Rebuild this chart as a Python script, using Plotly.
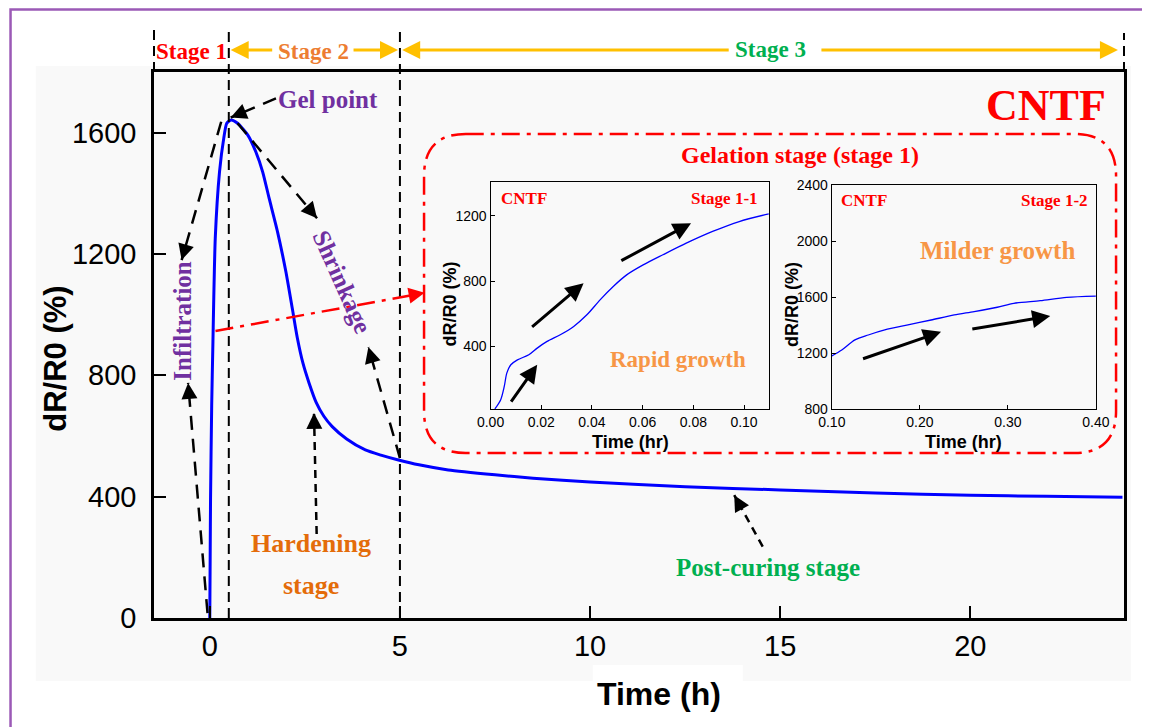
import math
import plotly.graph_objects as go

# ---------------- data ----------------
time_h = [0.0, 0.01, 0.02, 0.05, 0.081, 0.144, 0.256, 0.368, 0.446, 0.56, 0.73, 1.0, 1.21,
          1.39, 1.56, 1.78, 2.0, 2.17, 2.3, 2.45, 2.61, 2.8, 3.0, 3.22, 3.6, 4.09, 4.5, 4.96,
          5.5, 6.27, 7.5, 8.5, 10, 12.5, 15, 17.5, 20, 22, 24.0]
dr_r0 = [0, 200, 396, 700, 900, 1252, 1471, 1582, 1631, 1642, 1631, 1592, 1537,
         1471, 1384, 1274, 1142, 1020, 925, 840, 775, 710, 665, 631, 590, 554, 537, 521,
         505, 488, 472, 461, 448, 433, 422, 412, 405, 401, 398]

s11_time = [0.0017, 0.0040, 0.0054, 0.0064, 0.0080, 0.0106, 0.0151, 0.0184, 0.0223, 0.0275,
            0.0328, 0.0380, 0.0432, 0.0484, 0.0537, 0.0602, 0.0680, 0.0772, 0.0876, 0.0981,
            0.1098]
s11_val = [17, 74, 155, 237, 288, 318, 349, 390, 431, 472,
           523, 594, 686, 768, 839, 900, 962, 1033, 1105, 1166,
           1213]

s12_time = [0.100, 0.1113, 0.1263, 0.1414, 0.1602, 0.1865, 0.2128, 0.2391, 0.2617, 0.2880,
            0.3068, 0.3368, 0.3669, 0.400]
s12_val = [1180, 1223, 1295, 1330, 1366, 1402, 1437, 1473, 1497, 1528, 1556, 1575, 1599, 1608]

main_xticks = [0, 5, 10, 15, 20]
main_yticks = [0, 400, 800, 1200, 1600]
s11_xticks = [0, 0.02, 0.04, 0.06, 0.08, 0.10]
s11_yticks = [400, 800, 1200]
s12_xticks = [0.1, 0.2, 0.3, 0.4]
s12_yticks = [800, 1200, 1600, 2000, 2400]
stage_bounds = [0.5, 5]

# ---------------- geometry helpers (screen pixel coordinates) ----------------
OFF = 8                      # default body margin of the html page
W, H = 1150 - OFF, 727 - OFF
PL, PT, PR, PB = 154, 72, 1131, 618   # plot area on screen
ML, MT = PL - OFF, PT - OFF
MR, MB = W - (PR - OFF), H - (PB - OFF)
PW = PR - PL
PH = PB - PT
XR = [-1.467, 24.04]
YR = [0, 1800]
SX = PW / (XR[1] - XR[0])
SY = PH / (YR[1] - YR[0])


def px(x):
    return (x - PL) / PW


def py(y):
    return (PB - y) / PH


SERIF = "Liberation Serif"
SANS = "Liberation Sans"
RED = "#FF0000"
PURPLE = "#7030A0"
ORANGE = "#ED7D31"
ORANGE2 = "#E46C0A"
LORANGE = "#F79646"
GREEN = "#00B050"
YELLOW = "#FFC000"

shapes = []
annotations = []


def text(t, x, y, size, color, xref="x", yref="y", angle=0, family=SERIF, bold=True):
    annotations.append(dict(
        x=x, y=y, xref=xref, yref=yref, text=("<b>%s</b>" % t) if bold else t,
        showarrow=False, textangle=angle,
        font=dict(family=family, size=size, color=color),
        xanchor="center", yanchor="middle"))


def head(x0, y0, x1, y1, color, xref="x", yref="y", sx=SX, sy=SY, L=10, aw=2, asz=1.6):
    dxp = (x0 - x1) * sx
    dyp = -(y0 - y1) * sy
    n = math.hypot(dxp, dyp)
    annotations.append(dict(
        x=x1, y=y1, xref=xref, yref=yref, ax=dxp / n * L, ay=dyp / n * L,
        axref="pixel", ayref="pixel", text="", showarrow=True, arrowhead=2,
        arrowsize=asz, arrowwidth=aw, arrowcolor=color, standoff=0))


def dashed_arrow(x0, y0, x1, y1, dash, color="black", width=2.5):
    shapes.append(dict(type="line", xref="x", yref="y", x0=x0, y0=y0, x1=x1, y1=y1,
                       line=dict(color=color, width=width, dash=dash), layer="above"))
    head(x0, y0, x1, y1, color)


def solid_arrow(x0, y0, x1, y1, xref, yref, color="black", width=3, asz=1.2):
    annotations.append(dict(
        x=x1, y=y1, xref=xref, yref=yref, ax=x0, ay=y0, axref=xref, ayref=yref,
        text="", showarrow=True, arrowhead=2, arrowsize=asz, arrowwidth=width,
        arrowcolor=color, standoff=0))


def pixel_arrow(x, y, ax, ay, color, xref="x", yref="paper", width=3, asz=1.2):
    annotations.append(dict(
        x=x, y=y, xref=xref, yref=yref, ax=ax, ay=ay, axref="pixel", ayref="pixel",
        text="", showarrow=True, arrowhead=2, arrowsize=asz, arrowwidth=width,
        arrowcolor=color, standoff=0))


# ---------------- background panels ----------------
shapes.append(dict(type="rect", xref="paper", yref="paper", x0=px(35), x1=px(1138),
                   y0=py(681), y1=py(66), fillcolor="#F9F9F9", line=dict(width=0), layer="below"))
shapes.append(dict(type="rect", xref="paper", yref="paper", x0=px(596), x1=px(747),
                   y0=py(682), y1=py(665), fillcolor="white", line=dict(width=0), layer="below"))
# purple frame
shapes.append(dict(type="rect", xref="paper", yref="paper", x0=px(9.5), x1=px(1170),
                   y0=py(760), y1=py(9.5), line=dict(color="#9B59B6", width=2.5),
                   fillcolor="rgba(0,0,0,0)", layer="above"))

# ---------------- stage boundary lines ----------------
for b in stage_bounds:
    shapes.append(dict(type="line", xref="x", yref="paper", x0=b, x1=b, y0=0, y1=py(28),
                       line=dict(color="black", width=2, dash="10px,6px"), layer="above"))
shapes.append(dict(type="line", xref="paper", yref="paper", x0=0, x1=0, y0=1, y1=py(28),
                   line=dict(color="black", width=2, dash="10px,6px")))
shapes.append(dict(type="line", xref="paper", yref="paper", x0=1, x1=1, y0=1, y1=py(33),
                   line=dict(color="black", width=2, dash="10px,6px")))

# stage labels and yellow arrows
ys = py(52)
text("Stage 1", -0.48, ys, 23, RED, yref="paper")
text("Stage 2", 2.73, ys, 23, ORANGE, yref="paper")
text("Stage 3", 14.74, py(50), 23, GREEN, yref="paper")
ya = py(50)
pixel_arrow(0.55, ya, 43, 0, YELLOW)
pixel_arrow(4.95, ya, -46, 0, YELLOW)
pixel_arrow(5.06, ya, 328, 0, YELLOW)
pixel_arrow(23.88, ya, -298, 0, YELLOW)

# ---------------- main annotations ----------------
text("CNTF", 22.0, 1688, 44, RED)
text("Gel point", 3.12, 1711, 25, PURPLE)
text("Infiltration", -0.74, 979, 25, PURPLE, angle=-90)
text("Shrinkage", 3.47, 1108, 25, PURPLE, angle=66)
text("Hardening", 2.65, 247, 26, ORANGE2)
text("stage", 2.65, 108, 26, ORANGE2)
text("Post-curing stage", 14.67, 168, 25, GREEN)
text("Gelation stage (stage 1)", 15.53, 1527, 24, RED)

LD = "14px,9px"
SD = "8px,6px"
dashed_arrow(1.74, 1713, 0.55, 1650, LD)       # gel point
dashed_arrow(0.30, 1636, -0.74, 1180, LD)      # infiltration (upper)
dashed_arrow(0.73, 1631, 2.82, 1318, LD)       # shrinkage (upper)
dashed_arrow(-0.06, 16, -0.57, 775, LD)        # infiltration (lower)
dashed_arrow(2.81, 277, 2.74, 676, SD)         # hardening
dashed_arrow(5.0, 527, 4.17, 893, LD)          # shrinkage (lower)
dashed_arrow(14.54, 235, 13.79, 405, SD)       # post-curing

# red dash-dot pointer to inset box
shapes.append(dict(type="line", xref="x", yref="y", x0=0.15, y0=946, x1=5.65, y1=1072,
                   line=dict(color=RED, width=2.5, dash="18px,7px,4px,7px")))
head(0.15, 946, 5.65, 1072, RED)

# rounded dash-dot rectangle
L_, R_, T_, B_ = px(426), px(1123), py(134), py(453)
rx, ry = 42 / PW, 42 / PH
path = ("M {a},{T} L {b},{T} Q {R},{T} {R},{c} L {R},{d} Q {R},{B} {b},{B} "
        "L {a},{B} Q {L},{B} {L},{d} L {L},{c} Q {L},{T} {a},{T} Z").format(
    a=L_ + rx, b=R_ - rx, c=T_ - ry, d=B_ + ry, L=L_, R=R_, T=T_, B=B_)
shapes.append(dict(type="path", xref="paper", yref="paper", path=path,
                   line=dict(color=RED, width=2.5, dash="18px,7px,4px,7px")))

# ---------------- inset annotations ----------------
text("CNTF", 0.0132, 1310, 17, RED, xref="x2", yref="y2")
text("Stage 1-1", 0.0924, 1310, 17, RED, xref="x2", yref="y2")
text("Rapid growth", 0.0739, 318, 23, LORANGE, xref="x2", yref="y2")
solid_arrow(0.0077, 53, 0.0184, 288, "x2", "y2")
solid_arrow(0.0158, 513, 0.0367, 788, "x2", "y2")
solid_arrow(0.0510, 921, 0.0791, 1156, "x2", "y2")

text("CNTF", 0.1364, 2293, 17, RED, xref="x3", yref="y3")
text("Stage 1-2", 0.3527, 2293, 17, RED, xref="x3", yref="y3")
text("Milder growth", 0.2879, 1931, 25, LORANGE, xref="x3", yref="y3")
solid_arrow(0.1338, 1157, 0.2241, 1353, "x3", "y3")
solid_arrow(0.2579, 1371, 0.3481, 1465, "x3", "y3")

# axis titles
text("dR/R0 (%)", px(54), py(359), 31, "black", xref="paper", yref="paper", angle=-90, family=SANS)
text("Time (h)", px(663), py(694), 32, "black", xref="paper", yref="paper", family=SANS)
text("dR/R0 (%)", px(451.7), py(304), 18, "black", xref="paper", yref="paper", angle=-90, family=SANS)
text("Time (hr)", px(634), py(442), 18, "black", xref="paper", yref="paper", family=SANS)
text("dR/R0 (%)", px(796.7), py(305), 18, "black", xref="paper", yref="paper", angle=-90, family=SANS)
text("Time (hr)", px(969), py(442), 18, "black", xref="paper", yref="paper", family=SANS)

# ---------------- traces ----------------
fig = go.Figure()
fig.add_trace(go.Scatter(x=time_h, y=dr_r0, mode="lines", xaxis="x", yaxis="y",
                         line=dict(color="#0000FF", width=3, shape="spline", smoothing=0.6),
                         showlegend=False, hoverinfo="skip"))
fig.add_trace(go.Scatter(x=s11_time, y=s11_val, mode="lines", xaxis="x2", yaxis="y2",
                         line=dict(color="#0000FF", width=1.3, shape="spline", smoothing=0.8),
                         showlegend=False, hoverinfo="skip"))
fig.add_trace(go.Scatter(x=s12_time, y=s12_val, mode="lines", xaxis="x3", yaxis="y3",
                         line=dict(color="#0000FF", width=1.3, shape="spline", smoothing=0.8),
                         showlegend=False, hoverinfo="skip"))

main_ax = dict(showgrid=False, zeroline=False, showline=True, linecolor="black", linewidth=2.5,
               mirror=True, ticks="inside", ticklen=12, tickwidth=2, tickcolor="black",
               tickfont=dict(family=SANS, size=29, color="black"))
ins_ax = dict(showgrid=False, zeroline=False, showline=True, linecolor="black", linewidth=1.3,
              mirror=True, ticks="inside", ticklen=4, tickwidth=1, tickcolor="black",
              tickfont=dict(family=SANS, size=14, color="black"))

fig.update_layout(
    width=W, height=H,
    margin=dict(l=ML, r=MR, t=MT, b=MB, pad=0),
    paper_bgcolor="white", plot_bgcolor="#F9F9F9",
    showlegend=False,
    xaxis=dict(main_ax, range=XR, tickvals=main_xticks, domain=[0, 1], anchor="y",
               ticklabelstandoff=0),
    yaxis=dict(main_ax, range=YR, tickvals=main_yticks, domain=[0, 1], anchor="x",
               ticklabelstandoff=9),
    xaxis2=dict(ins_ax, range=[0, 0.1098], tickvals=s11_xticks, tickformat=".2f",
                domain=[px(493), px(773.3)], anchor="y2"),
    yaxis2=dict(ins_ax, range=[15, 1410], tickvals=s11_yticks,
                domain=[py(409.3), py(181.7)], anchor="x2"),
    xaxis3=dict(ins_ax, range=[0.1, 0.4], tickvals=s12_xticks, tickformat=".2f",
                domain=[px(836.7), px(1102.7)], anchor="y3"),
    yaxis3=dict(ins_ax, range=[800, 2400], tickvals=s12_yticks,
                domain=[py(409.3), py(185)], anchor="x3"),
    shapes=shapes,
    annotations=annotations,
)

fig.write_html("out.html")
